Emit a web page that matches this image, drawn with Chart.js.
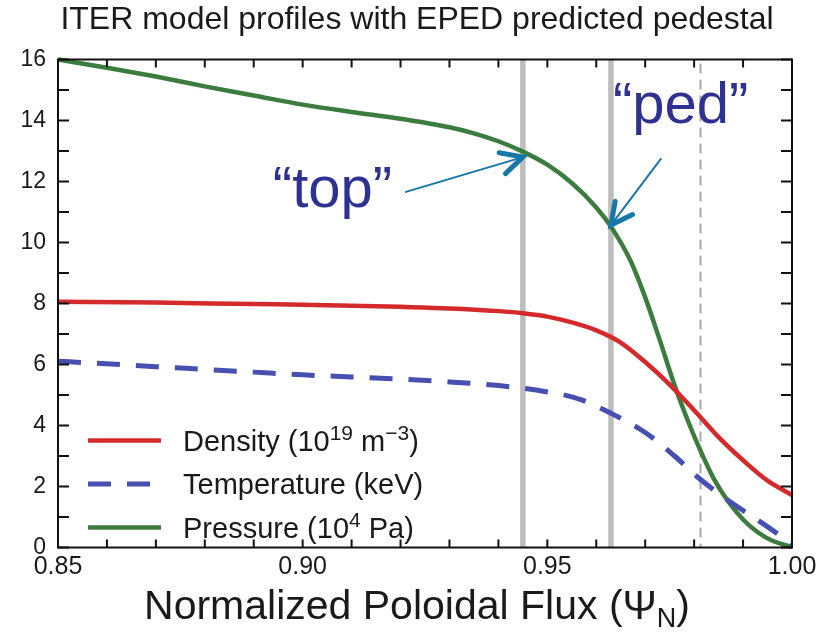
<!DOCTYPE html>
<html>
<head>
<meta charset="utf-8">
<title>ITER model profiles</title>
<script src="https://cdn.jsdelivr.net/npm/chart.js@4.4.1/dist/chart.umd.min.js"></script>
<style>
  html, body { margin: 0; padding: 0; background: #fff; }
</style>
</head>
<body>
<canvas id="profiles" width="834" height="638"></canvas>
<script>
// Profiles vs normalized poloidal flux
const psiPressure = [0.850, 0.860, 0.870, 0.880, 0.890, 0.900, 0.910, 0.920, 0.930, 0.935, 0.940, 0.945, 0.950, 0.955, 0.960, 0.963, 0.967, 0.970, 0.973, 0.976, 0.978, 0.981, 0.984, 0.987, 0.990, 0.993, 0.996, 1.000];
const pressure    = [16.00, 15.73, 15.44, 15.12, 14.82, 14.52, 14.28, 14.06, 13.78, 13.58, 13.32, 12.98, 12.55, 11.95, 11.15, 10.52, 9.40, 8.20, 6.79, 5.32, 4.45, 3.28, 2.26, 1.50, 0.92, 0.50, 0.22, 0.02];

const psiDensity = [0.850, 0.870, 0.890, 0.900, 0.910, 0.920, 0.930, 0.940, 0.945, 0.950, 0.955, 0.960, 0.965, 0.970, 0.975, 0.980, 0.985, 0.990, 0.995, 1.000];
const density    = [8.06, 8.03, 7.98, 7.96, 7.93, 7.89, 7.84, 7.75, 7.68, 7.57, 7.38, 7.12, 6.72, 6.08, 5.34, 4.50, 3.62, 2.86, 2.19, 1.72];

const psiTemperature = [0.850, 0.870, 0.890, 0.900, 0.910, 0.920, 0.930, 0.940, 0.945, 0.950, 0.954, 0.957, 0.963, 0.970, 0.976, 0.981, 0.987, 0.994, 1.000];
const temperature    = [6.11, 5.93, 5.75, 5.66, 5.59, 5.52, 5.43, 5.31, 5.22, 5.10, 4.98, 4.84, 4.40, 3.77, 3.00, 2.27, 1.54, 0.79, 0.12];

// pedestal top / pedestal position (solid gray) and the dashed reference line
const pedestalPsi = [0.945, 0.963];
const separatrixPsi = 0.9813;

const xTickLabels = ['0.85', '0.90', '0.95', '1.00'];
const yTickLabels = ['0', '2', '4', '6', '8', '10', '12', '14', '16'];

const chartTitle = 'ITER model profiles with EPED predicted pedestal';

const FONT = '"Liberation Sans", Arial, Helvetica, sans-serif';

const zip = (xs, ys) => xs.map((x, i) => ({ x, y: ys[i] }));

// callouts, anchored in data units
const callouts = [
  { text: '\u201Ctop\u201D', tx: 0.8939, ty: 11.16, fromX: 0.9211, fromY: 11.66, toX: 0.9450, toY: 12.80 },
  { text: '\u201Cped\u201D', tx: 0.9634, ty: 13.92, fromX: 0.9732, fromY: 12.74, toX: 0.9630, toY: 10.57 }
];

// vertical pedestal markers, drawn under the curves
const markers = {
  id: 'markers',
  beforeDatasetsDraw(chart) {
    const { ctx, chartArea: a, scales: { x } } = chart;
    ctx.save();
    ctx.strokeStyle = '#bdbdbd';
    ctx.lineWidth = 5.5;
    pedestalPsi.forEach(v => {
      const px = x.getPixelForValue(v);
      ctx.beginPath();
      ctx.moveTo(px, a.top);
      ctx.lineTo(px, a.bottom);
      ctx.stroke();
    });
    ctx.strokeStyle = '#aaaaaa';
    ctx.lineWidth = 2;
    ctx.setLineDash([10, 6]);
    const sx = x.getPixelForValue(separatrixPsi);
    ctx.beginPath();
    ctx.moveTo(sx, a.top + 4);
    ctx.lineTo(sx, a.bottom);
    ctx.stroke();
    ctx.restore();
  }
};

// "top" / "ped" labels with arrows
const calloutPlugin = {
  id: 'callouts',
  afterDatasetsDraw(chart) {
    const { ctx, scales: { x, y } } = chart;
    ctx.save();
    callouts.forEach(c => {
      ctx.fillStyle = '#2e3192';
      ctx.font = '58px ' + FONT;
      ctx.textAlign = 'left';
      ctx.textBaseline = 'alphabetic';
      ctx.fillText(c.text, x.getPixelForValue(c.tx), y.getPixelForValue(c.ty));

      const x0 = x.getPixelForValue(c.fromX), y0 = y.getPixelForValue(c.fromY);
      const x1 = x.getPixelForValue(c.toX), y1 = y.getPixelForValue(c.toY);
      ctx.strokeStyle = '#1778a8';
      ctx.lineCap = 'round';
      ctx.lineWidth = 2;
      ctx.beginPath();
      ctx.moveTo(x0, y0);
      ctx.lineTo(x1, y1);
      ctx.stroke();
      // arrow head
      const back = Math.atan2(y0 - y1, x0 - x1);
      const spread = 27 * Math.PI / 180, len = 24;
      ctx.lineWidth = 5;
      ctx.beginPath();
      ctx.moveTo(x1 + len * Math.cos(back + spread), y1 + len * Math.sin(back + spread));
      ctx.lineTo(x1, y1);
      ctx.lineTo(x1 + len * Math.cos(back - spread), y1 + len * Math.sin(back - spread));
      ctx.stroke();
    });
    ctx.restore();
  }
};

// box frame with inward ticks on all four sides
const frameTicks = {
  id: 'frameTicks',
  afterDraw(chart) {
    const { ctx, chartArea: a, scales: { x, y } } = chart;
    ctx.save();
    ctx.strokeStyle = '#111';
    ctx.lineWidth = 2;
    ctx.beginPath();
    x.ticks.forEach(t => {
      const px = x.getPixelForValue(t.value);
      ctx.moveTo(px, a.bottom); ctx.lineTo(px, a.bottom - 8);
      ctx.moveTo(px, a.top); ctx.lineTo(px, a.top + 8);
    });
    y.ticks.forEach(t => {
      const py = y.getPixelForValue(t.value);
      ctx.moveTo(a.left, py); ctx.lineTo(a.left + 11, py);
      ctx.moveTo(a.right, py); ctx.lineTo(a.right - 11, py);
    });
    ctx.stroke();
    ctx.strokeRect(a.left, a.top, a.right - a.left, a.bottom - a.top);
    ctx.restore();
  }
};

// draw a run of [text, sup/sub] pieces, returns end x
function drawParts(ctx, parts, x, y, size, small) {
  parts.forEach(([txt, mode]) => {
    if (mode === 'sup') {
      ctx.font = Math.round(size * small) + 'px ' + FONT;
      ctx.fillText(txt, x, y - size * 0.36);
    } else if (mode === 'sub') {
      ctx.font = Math.round(size * small) + 'px ' + FONT;
      ctx.fillText(txt, x, y + size * 0.2);
    } else {
      ctx.font = size + 'px ' + FONT;
      ctx.fillText(txt, x, y);
    }
    x += ctx.measureText(txt).width;
  });
  return x;
}

// legend in the lower left corner of the plot, the x axis title and the chart title
const legendAndTitle = {
  id: 'legendAndTitle',
  afterDraw(chart) {
    const { ctx, chartArea: a } = chart;
    ctx.save();
    ctx.fillStyle = '#1a1a1a';
    ctx.textBaseline = 'alphabetic';
    ctx.textAlign = 'left';
    chart.data.datasets.forEach((ds, i) => {
      const ly = a.bottom - 107 + i * 43.5;
      ctx.strokeStyle = ds.borderColor;
      ctx.lineWidth = ds.borderWidth;
      ctx.setLineDash(ds.borderDash || []);
      ctx.beginPath();
      ctx.moveTo(a.left + 30, ly);
      ctx.lineTo(a.left + 103, ly);
      ctx.stroke();
      drawParts(ctx, ds.legendParts, a.left + 125, ly + 10, 29, 0.72);
    });
    ctx.setLineDash([]);

    // x axis title with subscript N
    const parts = [['Normalized Poloidal Flux (\u03A8', ''], ['N', 'sub'], [')', '']];
    const size = 41, small = 0.66;
    let w = 0;
    parts.forEach(([t, m]) => {
      ctx.font = (m ? Math.round(size * small) : size) + 'px ' + FONT;
      w += ctx.measureText(t).width;
    });
    drawParts(ctx, parts, chart.width / 2 - w / 2, 619, size, small);

    // chart title, centred on the canvas
    ctx.font = '32px ' + FONT;
    ctx.textAlign = 'center';
    ctx.fillText(chartTitle, chart.width / 2, 29);
    ctx.restore();
  }
};

new Chart(document.getElementById('profiles'), {
  type: 'line',
  data: {
    datasets: [
      {
        label: 'Density',
        legendParts: [['Density (10', ''], ['19', 'sup'], [' m', ''], ['\u22123', 'sup'], [')', '']],
        data: zip(psiDensity, density),
        borderColor: '#d52a2b',
        borderWidth: 4.5,
        pointRadius: 0,
        cubicInterpolationMode: 'monotone',
        clip: false
      },
      {
        label: 'Temperature',
        legendParts: [['Temperature (keV)', '']],
        data: zip(psiTemperature, temperature),
        borderColor: '#4750b0',
        borderWidth: 5,
        borderDash: [23, 16],
        pointRadius: 0,
        cubicInterpolationMode: 'monotone',
        clip: false
      },
      {
        label: 'Pressure',
        legendParts: [['Pressure (10', ''], ['4', 'sup'], [' Pa)', '']],
        data: zip(psiPressure, pressure),
        borderColor: '#3c7c3e',
        borderWidth: 4.5,
        pointRadius: 0,
        cubicInterpolationMode: 'monotone',
        clip: false
      }
    ]
  },
  options: {
    responsive: false,
    animation: false,
    devicePixelRatio: 1,
    layout: { padding: { left: 0, right: 42, top: 59.5, bottom: 0 } },
    plugins: {
      legend: { display: false },
      tooltip: { enabled: false },
      title: { display: false }
    },
    scales: {
      x: {
        type: 'linear',
        min: 0.85,
        max: 1.0,
        grid: { display: false, drawTicks: false },
        border: { display: false },
        ticks: {
          stepSize: 0.01,
          autoSkip: false,
          maxRotation: 0,
          padding: 5,
          color: '#1a1a1a',
          font: { family: FONT, size: 25 },
          callback: v => xTickLabels.find(l => Math.abs(parseFloat(l) - v) < 1e-6) || ''
        },
        afterFit: s => { s.height = 90.5; }
      },
      y: {
        min: 0,
        max: 16,
        grid: { display: false, drawTicks: false },
        border: { display: false },
        ticks: {
          stepSize: 1,
          autoSkip: false,
          padding: 12,
          color: '#1a1a1a',
          font: { family: FONT, size: 23 },
          callback: v => yTickLabels.includes(String(v)) ? String(v) : ''
        },
        afterFit: s => { s.width = 58; }
      }
    }
  },
  plugins: [markers, calloutPlugin, frameTicks, legendAndTitle]
});
</script>
</body>
</html>
